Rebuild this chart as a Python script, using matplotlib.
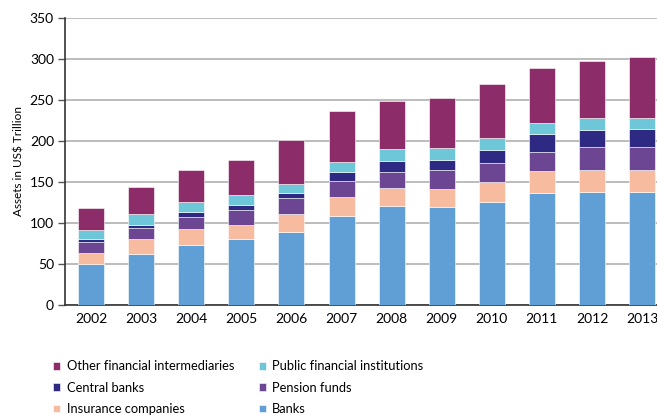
import numpy as np
import matplotlib
matplotlib.use("Agg")
import matplotlib.pyplot as plt

plt.rcParams['font.family'] = ['Lato', 'DejaVu Sans']

years = ['2002', '2003', '2004', '2005', '2006', '2007',
         '2008', '2009', '2010', '2011', '2012', '2013']

# stacked values (US$ trillion), bottom to top
banks = [50, 62, 73, 80, 89, 109, 121, 120, 125, 137, 138, 138]
insurance = [14, 18, 20, 18, 22, 23, 22, 22, 25, 26, 27, 27]
pension = [13, 14, 14, 18, 19, 19, 19, 22, 23, 24, 27, 28]
central = [4, 4, 6, 6, 7, 11, 14, 13, 16, 21, 21, 22]
public = [11, 13, 13, 12, 11, 12, 14, 14, 15, 14, 15, 13]
other = [26, 33, 39, 43, 53, 62, 59, 61, 65, 67, 69, 74]

series = [
    ('Banks', banks, '#5f9fd5'),
    ('Insurance companies', insurance, '#f7bc9f'),
    ('Pension funds', pension, '#6c4593'),
    ('Central banks', central, '#2e2982'),
    ('Public financial institutions', public, '#6ec7d8'),
    ('Other financial intermediaries', other, '#8c2d69'),
]

fig = plt.figure(figsize=(6.57, 4.15), dpi=100)
ax = fig.add_axes([0.099, 0.265, 0.918, 0.692])

x = np.arange(len(years))
bottom = np.zeros(len(years))
bars = {}
for name, vals, col in series:
    bars[name] = ax.bar(x, vals, 0.52, bottom=bottom, color=col,
                        edgecolor='white', linewidth=0.4, zorder=3)
    bottom += np.array(vals)

ax.set_xlim(-0.52, 11.52)
ax.set_ylim(0, 350)
ax.set_yticks(np.arange(0, 351, 50))
ax.set_xticks(x)
ax.set_xticklabels(years)
ax.yaxis.grid(True, color='#b0b0b0', linewidth=1.2, zorder=0)
for s in ['top', 'right']:
    ax.spines[s].set_visible(False)
for s in ['left', 'bottom']:
    ax.spines[s].set_color('#333333')
    ax.spines[s].set_linewidth(1.2)
ax.tick_params(axis='y', length=5, width=1, color='#555555', labelsize=10, pad=3)
ax.tick_params(axis='x', length=0, labelsize=10, pad=6)
ax.set_ylabel('Assets in US$ Trillion', fontsize=8.5, labelpad=4)

# legend filled column by column: left column, then right column
order = ['Other financial intermediaries', 'Central banks', 'Insurance companies',
         'Public financial institutions', 'Pension funds', 'Banks']
handles = [bars[n] for n in order]
fig.legend(handles, order, ncol=2, loc='lower left',
           bbox_to_anchor=(0.063, -0.028), frameon=False, fontsize=9.3,
           handlelength=0.55, handleheight=0.55, handletextpad=0.5,
           columnspacing=1.9, labelspacing=0.72)

fig.savefig('out.png', dpi=100)
